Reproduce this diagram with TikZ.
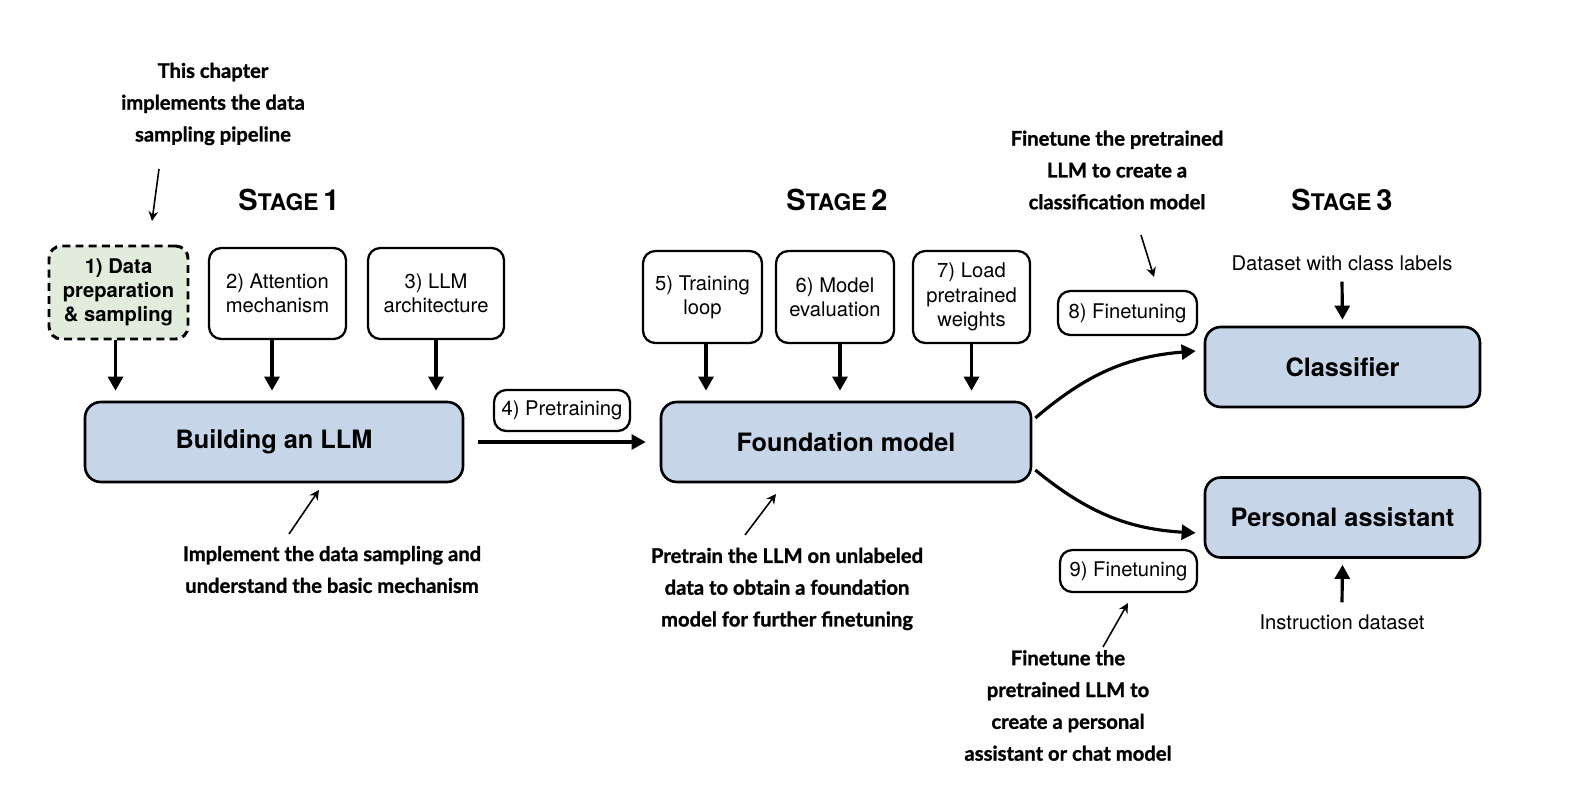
\documentclass[tikz,border=0pt]{standalone}
\usepackage{fontspec}
\setmainfont{TeX Gyre Heros}
\newfontfamily\notefont{Lato}[BoldFeatures={FakeBold=1.2}]
\usetikzlibrary{arrows.meta}
\definecolor{boxblue}{RGB}{198,214,232}
\definecolor{boxgreen}{RGB}{226,236,221}

\begin{document}
\begin{tikzpicture}[
  smallbox/.style={rectangle,rounded corners=7pt,draw,line width=1.3pt,align=center,
                   font=\fontsize{11.5}{13.8}\selectfont,inner sep=2pt},
  bigbox/.style={rectangle,rounded corners=9pt,draw,line width=1.5pt,fill=boxblue,
                 minimum height=1.6cm,font=\fontsize{14.4}{17}\selectfont\bfseries},
  note/.style={font=\notefont\bfseries\fontsize{11.5}{18.1}\selectfont,align=center},
  plain/.style={font=\fontsize{11.5}{13.8}\selectfont},
  arr/.style={-{Triangle[length=8pt,width=8.5pt]},line width=1.8pt},
  callarr/.style={-{Stealth[length=5.5pt,width=5.5pt]},line width=0.9pt},
]
\useasboundingbox (0,0) rectangle (31.8,-16.02);

% Stage titles
\node[font=\bfseries] (st1) at (5.78,-4.0) {{\fontsize{16.5}{18}\selectfont S}{\fontsize{13}{15}\selectfont TAGE} {\fontsize{16.5}{18}\selectfont 1}};
\node[font=\bfseries] (st2) at (16.74,-4.0) {{\fontsize{16.5}{18}\selectfont S}{\fontsize{13}{15}\selectfont TAGE} {\fontsize{16.5}{18}\selectfont 2}};
\node[font=\bfseries] (st3) at (26.84,-4.0) {{\fontsize{16.5}{18}\selectfont S}{\fontsize{13}{15}\selectfont TAGE} {\fontsize{16.5}{18}\selectfont 3}};

% Stage 1
\node[smallbox,fill=boxgreen,dash pattern=on 4.5pt off 3pt,line width=1.7pt,
      minimum width=2.78cm,minimum height=1.86cm,font=\fontsize{11.5}{13.8}\selectfont\bfseries] (data) at (2.37,-5.85) {1) Data\\preparation\\\& sampling};
\node[smallbox,minimum width=2.74cm,minimum height=1.82cm] (attn) at (5.55,-5.87) {2) Attention\\mechanism};
\node[smallbox,minimum width=2.72cm,minimum height=1.82cm] (arch) at (8.72,-5.87) {3) LLM\\architecture};
\node[bigbox,minimum width=7.56cm] (build) at (5.48,-8.84) {Building an LLM};

% Stage 2
\node[smallbox,minimum width=2.72cm,minimum height=0.82cm] (pretrain) at (11.24,-8.21) {4) Pretraining};
\node[smallbox,minimum width=2.38cm,minimum height=1.84cm] (loop) at (14.05,-5.94) {5) Training\\loop};
\node[smallbox,minimum width=2.36cm,minimum height=1.84cm] (eval) at (16.7,-5.94) {6) Model\\evaluation};
\node[smallbox,minimum width=2.34cm,minimum height=1.84cm] (load) at (19.43,-5.94) {7) Load\\pretrained\\weights};
\node[bigbox,minimum width=7.4cm] (found) at (16.92,-8.84) {Foundation model};

% Stage 3
\node[smallbox,minimum width=2.78cm,minimum height=0.88cm] (ft1) at (22.55,-6.26) {8) Finetuning};
\node[smallbox,minimum width=2.74cm,minimum height=0.84cm] (ft2) at (22.57,-11.42) {9) Finetuning};
\node[bigbox,minimum width=5.5cm] (clf) at (26.85,-7.34) {Classifier};
\node[bigbox,minimum width=5.5cm] (pa) at (26.85,-10.35) {Personal assistant};
\node[plain] (dset) at (26.84,-5.26) {Dataset with class labels};
\node[plain] (inst) at (26.84,-12.44) {Instruction dataset};

% Arrows
\draw[arr] ([xshift=-0.06cm]data.south) -- ([xshift=-0.06cm,yshift=0.2cm]data.south |- build.north);
\draw[arr] ([xshift=-0.11cm]attn.south) -- ([xshift=-0.11cm,yshift=0.2cm]attn.south |- build.north);
\draw[arr] (arch.south) -- ([yshift=0.2cm]arch.south |- build.north);
\draw[arr,shorten <=0.28cm,shorten >=0.28cm] (build.east) -- (found.west);
\draw[arr] ([xshift=0.07cm]loop.south) -- ([xshift=0.07cm,yshift=0.2cm]loop.south |- found.north);
\draw[arr] ([xshift=0.1cm]eval.south) -- ([xshift=0.1cm,yshift=0.2cm]eval.south |- found.north);
\draw[arr] (load.south) -- ([yshift=0.2cm]load.south |- found.north);
\draw[arr] ([xshift=0.06cm,yshift=0.48cm]found.east) to[bend left=18] ([xshift=-0.16cm,yshift=0.32cm]clf.west);
\draw[arr] ([xshift=0.06cm,yshift=-0.56cm]found.east) to[bend right=18] ([xshift=-0.16cm,yshift=-0.31cm]pa.west);
\draw[arr] ([yshift=-0.1cm]dset.south) -- ([yshift=0.12cm]clf.north);
\draw[arr] ([yshift=0.12cm]inst.north) -- ([yshift=-0.12cm]pa.south);

% Callouts
\node[note] (n1) at (4.26,-2.08) {This chapter\\implements the data\\sampling pipeline};
\node[note] (n2) at (6.64,-11.39) {Implement the data sampling and\\understand the basic mechanism};
\node[note] (n3) at (15.74,-11.78) {Pretrain the LLM on unlabeled\\data to obtain a foundation\\model for further finetuning};
\node[note] (n4) at (22.34,-3.4) {Finetune the pretrained\\LLM to create a\\classification model};
\node[note] (n5) at (21.36,-14.11) {Finetune the\\pretrained LLM to\\create a personal\\assistant or chat model};

\coordinate (a1) at (3.18,-3.38);  \coordinate (b1) at (3.04,-4.42);
\coordinate (a2) at (5.78,-10.68); \coordinate (b2) at (6.38,-9.8);
\coordinate (a3) at (14.9,-10.7);  \coordinate (b3) at (15.52,-9.88);
\coordinate (a4) at (22.82,-4.7);  \coordinate (b4) at (23.08,-5.54);
\coordinate (a5) at (22.06,-12.94); \coordinate (b5) at (22.56,-12.06);
\draw[callarr] (a1) -- (b1);
\draw[callarr] (a2) -- (b2);
\draw[callarr] (a3) -- (b3);
\draw[callarr] (a4) -- (b4);
\draw[callarr] (a5) -- (b5);

\end{tikzpicture}
\end{document}
